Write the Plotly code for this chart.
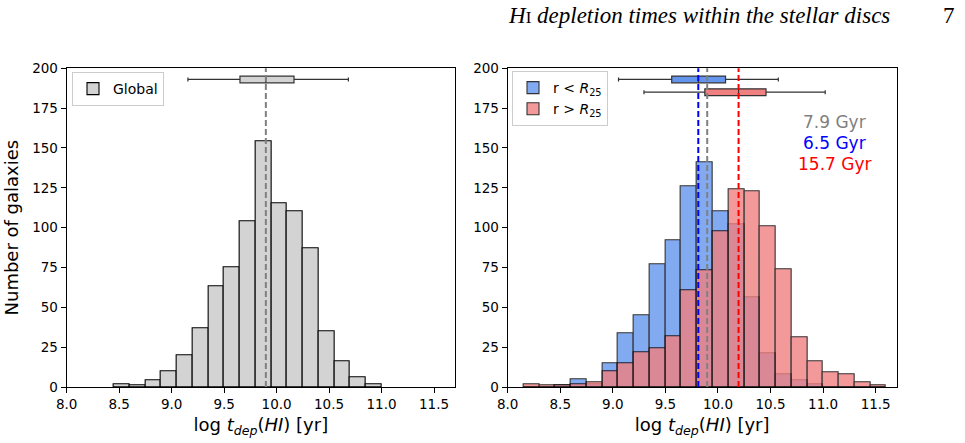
import numpy as np
import plotly.graph_objects as go

# ---------------- data ----------------
# left panel: global histogram (bin lower edges, counts)
global_edges = [8.45, 8.60, 8.75, 8.90, 9.05, 9.20, 9.35, 9.50, 9.65, 9.80,
                9.95, 10.10, 10.25, 10.40, 10.55, 10.70, 10.85]
global_counts = [2, 1, 4, 10, 20, 37, 63, 75, 104, 154, 115, 110, 87, 35, 16, 6, 2]

# right panel: inner / outer histograms
split_edges = [8.15, 8.30, 8.45, 8.60, 8.75, 8.90, 9.05, 9.20, 9.35, 9.50, 9.65,
               9.80, 9.95, 10.10, 10.25, 10.40, 10.55, 10.70, 10.85, 11.00,
               11.15, 11.30, 11.45]
inner_counts = [0, 0, 1, 5, 2, 15, 34, 45, 77, 92, 126, 141, 110, 102, 56, 21,
                8, 4, 2, 0, 0, 0, 0]
outer_counts = [2, 1, 1, 2, 3, 10, 15, 22, 24, 32, 61, 73, 98, 124, 123, 101,
                74, 31, 16, 9, 8, 3, 1]
bin_width = 0.15

# box-plot summaries: [lower whisker, q1, median, q3, upper whisker]
global_box = [9.155, 9.651, 9.898, 10.166, 10.684]
inner_box = [9.054, 9.560, 9.813, 10.072, 10.574]
outer_box = [9.296, 9.875, 10.196, 10.457, 11.020]
box_pos = {"global": 193, "inner": 193, "outer": 185}

# median depletion times [Gyr]
tdep_global = 7.9
tdep_inner = 6.5
tdep_outer = 15.7

xlabel = "log <i>t</i><sub><i>dep</i></sub>(<i>HI</i>) [yr]"

GRAY_FILL = "#d3d3d3"
BLUE = "#6495ed"
RED = "#f08080"

fig = go.Figure()


def centers(edges):
    return np.array(edges) + bin_width / 2


# left histogram
fig.add_trace(go.Bar(x=centers(global_edges), y=global_counts, width=bin_width,
                     marker=dict(color=GRAY_FILL, line=dict(color="black", width=1.1)),
                     name="Global", legend="legend", xaxis="x", yaxis="y"))
# right histograms
fig.add_trace(go.Bar(x=centers(split_edges), y=inner_counts, width=bin_width,
                     marker=dict(color=BLUE, line=dict(color="black", width=1.1)),
                     opacity=0.8, name="r &lt; <i>R</i><sub>25</sub>",
                     legend="legend2", xaxis="x2", yaxis="y2"))
fig.add_trace(go.Bar(x=centers(split_edges), y=outer_counts, width=bin_width,
                     marker=dict(color=RED, line=dict(color="black", width=1.1)),
                     opacity=0.8, name="r &gt; <i>R</i><sub>25</sub>",
                     legend="legend2", xaxis="x2", yaxis="y2"))


def add_box(stats, pos, color, xa, ya):
    fig.add_trace(go.Box(lowerfence=[stats[0]], q1=[stats[1]], median=[stats[2]],
                         q3=[stats[3]], upperfence=[stats[4]], y=[pos],
                         orientation="h", width=4.2, whiskerwidth=0.6,
                         fillcolor=color, line=dict(color="#333333", width=1.2),
                         showlegend=False, xaxis=xa, yaxis=ya, hoverinfo="skip"))


add_box(global_box, box_pos["global"], GRAY_FILL, "x", "y")
add_box(inner_box, box_pos["inner"], BLUE, "x2", "y2")
add_box(outer_box, box_pos["outer"], RED, "x2", "y2")

# dashed median lines
shapes = []
for xref, yref, val, col in [("x", "y domain", tdep_global, "gray"),
                             ("x2", "y2 domain", tdep_inner, "blue"),
                             ("x2", "y2 domain", tdep_global, "gray"),
                             ("x2", "y2 domain", tdep_outer, "red")]:
    lx = np.log10(val * 1e9)
    shapes.append(dict(type="line", xref=xref, yref=yref, x0=lx, x1=lx, y0=0, y1=1,
                       line=dict(color=col, width=2, dash="6px,3px"), layer="above"))

annotations = []
for txt, col, yy in [(f"{tdep_global} Gyr", "gray", 0.83),
                     (f"{tdep_inner} Gyr", "blue", 0.765),
                     (f"{tdep_outer} Gyr", "red", 0.70)]:
    annotations.append(dict(text=txt, xref="x2 domain", yref="y2 domain", x=0.839, y=yy,
                            showarrow=False, xanchor="center", yanchor="middle",
                            font=dict(size=17, color=col, family="DejaVu Sans")))
# running header
annotations.append(dict(text="<i>H</i><span style='font-size:17px'>I</span> <i>depletion times within the stellar discs</i>",
                        xref="paper", yref="paper", x=506 / 965, y=1 - 15 / 443,
                        xanchor="left", yanchor="middle", showarrow=False,
                        font=dict(size=23, color="black", family="Liberation Serif")))
annotations.append(dict(text="7", xref="paper", yref="paper", x=949 / 965, y=1 - 15 / 443,
                        xanchor="center", yanchor="middle", showarrow=False,
                        font=dict(size=23, color="black", family="Liberation Serif")))

axis_common = dict(showline=True, linecolor="black", linewidth=1.1, mirror=True,
                   ticks="outside", ticklen=5, tickwidth=1.1, tickcolor="black",
                   showgrid=False, zeroline=False, automargin=False,
                   tickfont=dict(size=13.5, color="black", family="DejaVu Sans"))

xdom1 = [66.7 / 965, 455 / 965]
xdom2 = [507.7 / 965, 896.7 / 965]
ydom = [(443 - 387) / 443, (443 - 68.3) / 443]

fig.update_layout(
    width=965, height=443,
    margin=dict(l=0, r=0, t=0, b=0, autoexpand=False),
    paper_bgcolor="white", plot_bgcolor="white",
    barmode="overlay", bargap=0,
    font=dict(family="DejaVu Sans", color="black"),
    xaxis=dict(domain=xdom1, range=[8.0, 11.7], dtick=0.5, tick0=8.0, tickformat=".1f",
               anchor="y", title=dict(text=xlabel, font=dict(size=18), standoff=7),
               **axis_common),
    yaxis=dict(domain=ydom, range=[0, 200], dtick=25, type="linear", anchor="x",
               title=dict(text="Number of galaxies", font=dict(size=18), standoff=8),
               **axis_common),
    xaxis2=dict(domain=xdom2, range=[8.0, 11.7], dtick=0.5, tick0=8.0, tickformat=".1f",
                anchor="y2", title=dict(text=xlabel, font=dict(size=18), standoff=7),
                **axis_common),
    yaxis2=dict(domain=ydom, range=[0, 200], dtick=25, type="linear", anchor="x2",
                **axis_common),
    legend=dict(x=72 / 965, y=1 - 72 / 443, xanchor="left", yanchor="top",
                bgcolor="rgba(255,255,255,0.8)", bordercolor="#cccccc", borderwidth=1,
                font=dict(size=14, family="DejaVu Sans")),
    legend2=dict(x=512 / 965, y=1 - 71 / 443, xanchor="left", yanchor="top",
                 bgcolor="rgba(255,255,255,0.8)", bordercolor="#cccccc", borderwidth=1,
                 font=dict(size=14, family="DejaVu Sans")),
    shapes=shapes,
    annotations=annotations,
    showlegend=True,
)

fig.write_html("out.html")
